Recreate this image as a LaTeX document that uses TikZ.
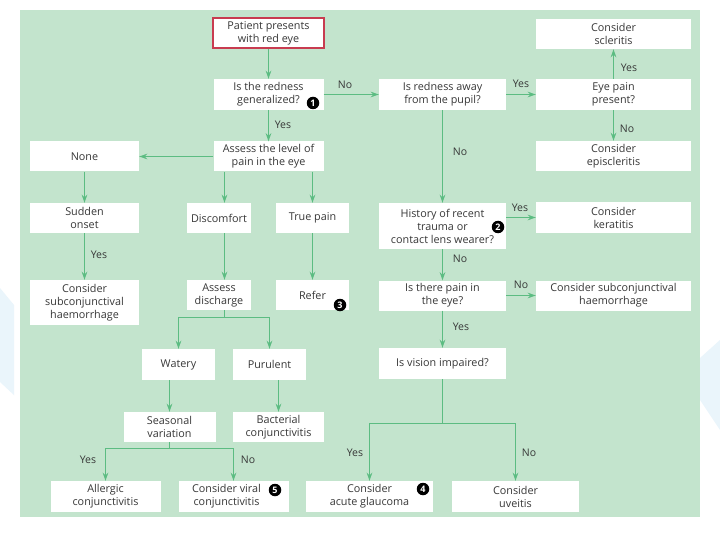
\documentclass[tikz,border=0pt]{standalone}
\usepackage{fontspec}
\setmainfont{Open Sans}
\usetikzlibrary{arrows.meta}
\definecolor{bggreen}{RGB}{195,228,205}
\definecolor{linegreen}{RGB}{92,188,130}
\definecolor{txtgray}{RGB}{55,55,55}
\definecolor{redborder}{RGB}{200,60,80}
\definecolor{decoblue}{RGB}{234,245,251}
\begin{document}
\begin{tikzpicture}[x=1pt,y=-1pt,
  box/.style={fill=white, inner sep=0pt, align=center, text=txtgray, font=\fontsize{10.8}{13}\selectfont},
  arr/.style={draw=linegreen, line width=1.4pt, -{Stealth[length=8pt,width=5.5pt]}},
  conn/.style={draw=linegreen, line width=1.4pt},
  lab/.style={text=txtgray, font=\fontsize{10.5}{12}\selectfont, inner sep=0pt},
  num/.style={circle, fill=black, text=white, inner sep=0pt, minimum size=12.5pt, font=\fontsize{9}{9}\bfseries\selectfont}]
\useasboundingbox (0,0) rectangle (720,540);
\fill[white] (0,0) rectangle (720,540);
\fill[decoblue] (0,288) -- (14,305) -- (14,395) -- (0,382) -- cycle;
\fill[decoblue] (700,358) -- (720,340) -- (720,430) -- (700,400) -- cycle;
\fill[bggreen] (20,10) rectangle (700,517);

% boxes
\node[box, draw=redborder, line width=1.6pt, minimum width=111pt, minimum height=30pt] (start) at (268.5,33) {Patient presents\\with red eye};
\node[box, minimum width=110pt, minimum height=31pt] (gen) at (268.5,94.5) {Is the redness\\generalized?};
\node[box, minimum width=110pt, minimum height=30pt] (assess) at (268.5,156.5) {Assess the level of\\pain in the eye};
\node[box, minimum width=109pt, minimum height=30pt] (none) at (84.5,156.5) {None};
\node[box, minimum width=127pt, minimum height=31pt] (away) at (442.5,94.5) {Is redness away\\from the pupil?};
\node[box, minimum width=155pt, minimum height=31pt] (eyepain) at (613.5,94.5) {Eye pain\\present?};
\node[box, minimum width=155pt, minimum height=30pt] (scler) at (613.5,34) {Consider\\scleritis};
\node[box, minimum width=155pt, minimum height=30pt] (episc) at (613.5,156) {Consider\\episcleritis};
\node[box, minimum width=109pt, minimum height=30pt] (sudden) at (84.5,218) {Sudden\\onset};
\node[box, minimum width=64pt, minimum height=30pt] (disc) at (219,218) {Discomfort};
\node[box, minimum width=73pt, minimum height=30pt] (truepain) at (312.5,218) {True pain};
\node[box, minimum width=109pt, minimum height=45pt] (subL) at (84.5,302.5) {Consider\\subconjunctival\\haemorrhage};
\node[box, minimum width=64pt, minimum height=30pt] (discharge) at (219,295) {Assess\\discharge};
\node[box, minimum width=73pt, minimum height=30pt] (refer) at (312.5,295) {Refer};
\node[box, minimum width=73pt, minimum height=31pt] (watery) at (178.5,364.5) {Watery};
\node[box, minimum width=73pt, minimum height=31pt] (purulent) at (269.5,364.5) {Purulent};
\node[box, minimum width=92pt, minimum height=30pt] (seasonal) at (169.5,427) {Seasonal\\variation};
\node[box, minimum width=91pt, minimum height=30pt] (bacterial) at (278.5,427) {Bacterial\\conjunctivitis};
\node[box, minimum width=110pt, minimum height=31pt] (allergic) at (105.5,496.5) {Allergic\\conjunctivitis};
\node[box, minimum width=110pt, minimum height=31pt] (viral) at (233.5,496.5) {Consider viral\hspace{14pt}\null\\conjunctivitis\hspace{14pt}\null};
\node[box, minimum width=127pt, minimum height=31pt] (glaucoma) at (369.5,496.5) {Consider\\acute glaucoma};
\node[box, minimum width=127pt, minimum height=31pt] (uveitis) at (515.5,496.5) {Consider\\uveitis};
\node[box, minimum width=127pt, minimum height=46pt] (history) at (442.5,226) {History of recent\\trauma or\\contact lens wearer?};
\node[box, minimum width=155pt, minimum height=30pt] (keratitis) at (613.5,217.5) {Consider\\keratitis};
\node[box, minimum width=127pt, minimum height=30pt] (painq) at (442.5,295.5) {Is there pain in\\the eye?};
\node[box, minimum width=155pt, minimum height=30pt] (subR) at (613.5,295.5) {Consider subconjunctival\\haemorrhage};
\node[box, minimum width=127pt, minimum height=31pt] (vision) at (442.5,363.5) {Is vision impaired?};

% numbered markers
\node[num] (n1) at (313,103) {1};
\node[num] (n2) at (498,227) {2};
\node[num] (n3) at (340,305) {3};
\node[num] (n4) at (423,489) {4};
\node[num] (n5) at (275,490) {5};

% helper coordinates
\coordinate (xd) at (224.5,0);
\coordinate (j1) at (224.5,317.5);
\coordinate (j2) at (169.5,448.5);
\coordinate (j3) at (442.5,423.5);

% connectors
\draw[arr] (start.south) -- (gen.north);
\draw[arr] (gen.south) -- (assess.north);
\draw[arr] (gen.east) -- (away.west);
\draw[arr] (away.east) -- (eyepain.west);
\draw[arr] (eyepain.north) -- (scler.south);
\draw[arr] (eyepain.south) -- (episc.north);
\draw[arr] (away.south) -- (history.north);
\draw[arr] (assess.west) -- (none.east);
\draw[arr] (none.south) -- (sudden.north);
\draw[arr] (sudden.south) -- (subL.north);
\draw[arr] (assess.south -| xd) -- (disc.north -| xd);
\draw[arr] (assess.south -| truepain) -- (truepain.north);
\draw[arr] (disc.south -| xd) -- (discharge.north -| xd);
\draw[arr] (truepain.south) -- (refer.north);
\draw[conn] (discharge.south -| j1) -- (j1);
\draw[arr] (j1) -| (watery.north);
\draw[arr] (j1) -| (purulent.north);
\draw[arr] (watery.south -| seasonal) -- (seasonal.north);
\draw[arr] (purulent.south -| bacterial) -- (bacterial.north);
\draw[conn] (seasonal.south) -- (j2);
\draw[arr] (j2) -| (allergic.north);
\draw[arr] (j2) -| (viral.north);
\draw[arr] (history.east |- keratitis) -- (keratitis.west);
\draw[arr] (history.south) -- (painq.north);
\draw[arr] (painq.east) -- (subR.west);
\draw[arr] (painq.south) -- (vision.north);
\draw[conn] (vision.south) -- (j3);
\draw[arr] (j3) -| (glaucoma.north);
\draw[arr] (j3) -| (uveitis.north);

% labels
\node[lab] (l1) at (345,85) {No};
\node[lab] (l2) at (521,84) {Yes};
\node[lab] (l3) at (629,68) {Yes};
\node[lab] (l4) at (627,129) {No};
\node[lab] (l5) at (283,125) {Yes};
\node[lab] (l6) at (460,152) {No};
\node[lab] (l7) at (99,255) {Yes};
\node[lab] (l8) at (520,208) {Yes};
\node[lab] (l9) at (460,259) {No};
\node[lab] (l10) at (521,285) {No};
\node[lab] (l11) at (461,327) {Yes};
\node[lab] (l12) at (88,460) {Yes};
\node[lab] (l13) at (248,460) {No};
\node[lab] (l14) at (355,453) {Yes};
\node[lab] (l15) at (529,453) {No};
\end{tikzpicture}
\end{document}
